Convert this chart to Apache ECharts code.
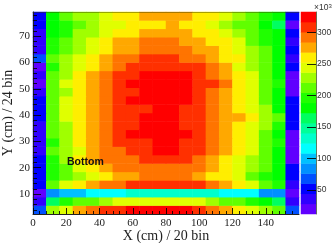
<!DOCTYPE html>
<html>
<head>
<meta charset="utf-8">
<style>html,body{margin:0;padding:0;background:#fff}#c{width:332px;height:243px}</style>
<script src="https://cdn.jsdelivr.net/npm/echarts@6/dist/echarts.min.js"></script>
</head>
<body>
<div id="c"></div>
<script>
// Counts (x10^3) per bin, bottom row first; each row has 20 X bins.
const row01 = [68,228,244,276,292,308,308,324,324,324,324,324,308,292,276,260,244,228,212,68];
const row02 = [36,164,196,212,212,228,244,244,244,244,244,244,244,228,212,212,196,180,164,36];
const row03 = [20,84,100,100,116,116,116,132,132,132,132,132,132,132,116,116,116,84,84,20];
const row04 = [52,212,244,260,276,292,292,308,308,308,308,308,308,292,276,260,244,212,196,36];
const row05 = [52,196,212,228,244,260,276,276,292,292,292,292,276,260,260,244,212,196,180,52];
const row06 = [52,196,212,244,260,276,292,292,292,292,292,292,292,276,260,244,228,212,180,52];
const row07 = [52,196,228,260,276,292,292,292,308,308,308,308,292,276,260,244,228,212,180,20];
const row08 = [36,212,228,244,276,292,292,308,308,324,324,308,308,292,276,260,244,212,180,20];
const row09 = [36,196,228,260,276,292,308,308,308,324,324,308,308,292,276,260,244,212,196,20];
const row10 = [36,212,228,260,276,292,308,324,324,324,324,324,308,292,276,260,244,212,180,20];
const row11 = [36,212,228,260,276,292,308,308,324,324,324,308,308,292,276,260,244,228,196,52];
const row12 = [52,212,244,260,276,292,308,308,324,324,324,308,308,292,276,276,260,228,212,52];
const row13 = [52,212,244,260,276,292,308,308,308,324,324,308,308,292,276,260,244,228,180,52];
const row14 = [52,212,244,260,276,292,308,324,324,324,324,324,308,292,276,260,244,212,180,52];
const row15 = [36,212,228,260,276,292,308,308,324,324,324,324,308,292,276,260,244,212,180,20];
const row16 = [20,212,244,260,276,292,308,324,324,324,324,324,308,308,292,260,244,212,196,20];
const row17 = [36,212,228,260,276,292,308,308,324,324,324,324,308,292,276,260,244,212,180,20];
const row18 = [20,196,228,244,260,276,292,308,308,308,308,308,308,292,276,244,228,212,180,52];
const row19 = [68,212,228,244,260,276,292,292,308,308,308,292,292,276,260,260,228,212,180,36];
const row20 = [36,196,212,228,244,260,276,276,292,292,292,292,276,276,260,244,228,212,180,52];
const row21 = [36,196,212,228,244,260,276,276,292,292,292,276,276,260,260,244,212,196,180,36];
const row22 = [36,180,196,228,228,244,260,260,276,276,276,276,260,260,244,228,212,196,180,52];
const row23 = [52,180,196,212,228,244,244,260,260,260,276,260,260,244,228,212,212,180,164,20];
const row24 = [52,180,212,228,228,244,260,260,276,276,276,276,260,260,244,228,212,196,180,52];
const gridRows = [row01,row02,row03,row04,row05,row06,row07,row08,row09,row10,row11,row12,
                  row13,row14,row15,row16,row17,row18,row19,row20,row21,row22,row23,row24];

const paletteColors = ['#6000ff','#3000ff','#0000ff','#0050ff','#0090ff','#00c0ff','#00ffff','#00ffcc',
  '#00ff99','#00ff60','#00ff00','#20ff00','#60ff00','#a0ff00','#e0ff00','#ffee00','#ffa800','#ff7400','#ff3000','#ff0000'];
const zMin = 12, zMax = 332, xMin = 0, xMax = 160, yMin = 2.4, yMax = 79.2;
const paletteLevels = [20,36,52,68,84,100,116,132,148,164,180,196,212,228,244,260,276,292,308,324];
const levelHalf = 8;

const xMajor = [0,20,40,60,80,100,120,140];
const xMinor = [4,8,12,16,24,28,32,36,44,48,52,56,64,68,72,76,84,88,92,96,104,108,112,116,124,128,132,136,144,148,152,156];
const yMajor = [10,20,30,40,50,60,70];
const yMinor = [4,6,8,12,14,16,18,22,24,26,28,32,34,36,38,42,44,46,48,52,54,56,58,62,64,66,68,72,74,76,78];
const zMajor = [50,100,150,200,250,300];

const serif = '"Liberation Serif"', sans = '"Liberation Sans"';
const tickColor = 'rgba(0,0,0,0.85)';

const cells = [];
gridRows.forEach((row, r) => row.forEach((v, c) => cells.push([c, r, v])));
const paletteCells = paletteLevels.map((v, i) => [0, i, v]);
const catX = gridRows[0].map((_, i) => String(i));
const catY = gridRows.map((_, i) => String(i));

const hiddenCat = (gridIndex, data) => ({type:'category', gridIndex, data, show:false, boundaryGap:true});

const chart = echarts.init(document.getElementById('c'), null, {renderer:'canvas'});
chart.setOption({
  animation:false,
  backgroundColor:'#fff',
  grid:[
    {left:33, top:12, width:266, height:202, containLabel:false, outerBoundsMode:'none'},
    {left:301, top:12, width:15, height:202, containLabel:false, outerBoundsMode:'none'}
  ],
  visualMap:{
    type:'piecewise', show:false, seriesIndex:[0,1],
    pieces:paletteLevels.map((v,i)=>({gte:v-levelHalf, lt:v+levelHalf, color:paletteColors[i]}))
  },
  xAxis:[
    hiddenCat(0, catX),
    {type:'value', gridIndex:0, min:xMin, max:xMax, position:'bottom', z:5,
     axisLine:{show:true, onZero:false, lineStyle:{color:'#222', width:1}},
     axisTick:{show:true, inside:true, length:6, customValues:xMajor, lineStyle:{color:tickColor}},
     axisLabel:{show:true, customValues:xMajor, margin:4, fontFamily:serif, fontSize:11, color:'#222'},
     splitLine:{show:false},
     name:'X (cm) / 20 bin', nameLocation:'middle', nameGap:15, nameMoveOverlap:false,
     nameTextStyle:{fontFamily:serif, fontSize:14, color:'#222', padding:[0,0,0,0]}},
    {type:'value', gridIndex:0, min:xMin, max:xMax, position:'bottom', z:5,
     axisLine:{show:false},
     axisTick:{show:true, inside:true, length:3, customValues:xMinor, lineStyle:{color:tickColor}},
     axisLabel:{show:false}, splitLine:{show:false}},
    {type:'value', gridIndex:0, min:xMin, max:xMax, position:'top', z:5,
     axisLine:{show:true, onZero:false, lineStyle:{color:'rgba(60,60,0,0.45)', width:1}},
     axisTick:{show:false}, axisLabel:{show:false}, splitLine:{show:false}},
    hiddenCat(1, ['0'])
  ],
  yAxis:[
    hiddenCat(0, catY),
    {type:'value', gridIndex:0, min:yMin, max:yMax, position:'left', z:5,
     axisLine:{show:true, onZero:false, lineStyle:{color:'#222', width:1}},
     axisTick:{show:true, inside:true, length:8, customValues:yMajor, lineStyle:{color:tickColor}},
     axisLabel:{show:true, customValues:yMajor, margin:3, fontFamily:serif, fontSize:11, color:'#222'},
     splitLine:{show:false},
     name:'Y (cm) / 24 bin', nameLocation:'middle', nameGap:18, nameMoveOverlap:false,
     nameTextStyle:{fontFamily:serif, fontSize:14, color:'#222'}},
    {type:'value', gridIndex:0, min:yMin, max:yMax, position:'left', z:5,
     axisLine:{show:false},
     axisTick:{show:true, inside:true, length:4, customValues:yMinor, lineStyle:{color:tickColor}},
     axisLabel:{show:false}, splitLine:{show:false}},
    hiddenCat(1, paletteLevels.map(String)),
    {type:'value', gridIndex:1, min:zMin, max:zMax, position:'right', z:5,
     axisLine:{show:true, onZero:false, lineStyle:{color:'rgba(50,70,30,0.7)', width:1}},
     axisTick:{show:true, inside:true, length:9, customValues:zMajor, lineStyle:{color:tickColor}},
     axisLabel:{show:true, customValues:zMajor, margin:1, fontFamily:sans, fontSize:8.5, color:'#333'},
     splitLine:{show:false}}
  ],
  series:[
    {type:'heatmap', xAxisIndex:0, yAxisIndex:0, data:cells, progressive:0,
     itemStyle:{borderWidth:0}, emphasis:{disabled:true}, silent:true},
    {type:'heatmap', xAxisIndex:4, yAxisIndex:3, data:paletteCells, progressive:0,
     itemStyle:{borderWidth:0}, emphasis:{disabled:true}, silent:true}
  ],
  graphic:[
    {type:'text', left:67, top:157, z:10, style:{text:'Bottom', fontFamily:sans, fontWeight:'bold', fontSize:10.5, fill:'#111'}},
    {type:'text', left:314, top:3, z:10, style:{
      text:'×10{s|3}', fontFamily:sans, fontSize:8.5, fill:'#333',
      rich:{s:{fontFamily:sans, fontSize:6, fill:'#333', verticalAlign:'top', padding:[0,0,3,0]}}}}
  ]
});
</script>
</body>
</html>
